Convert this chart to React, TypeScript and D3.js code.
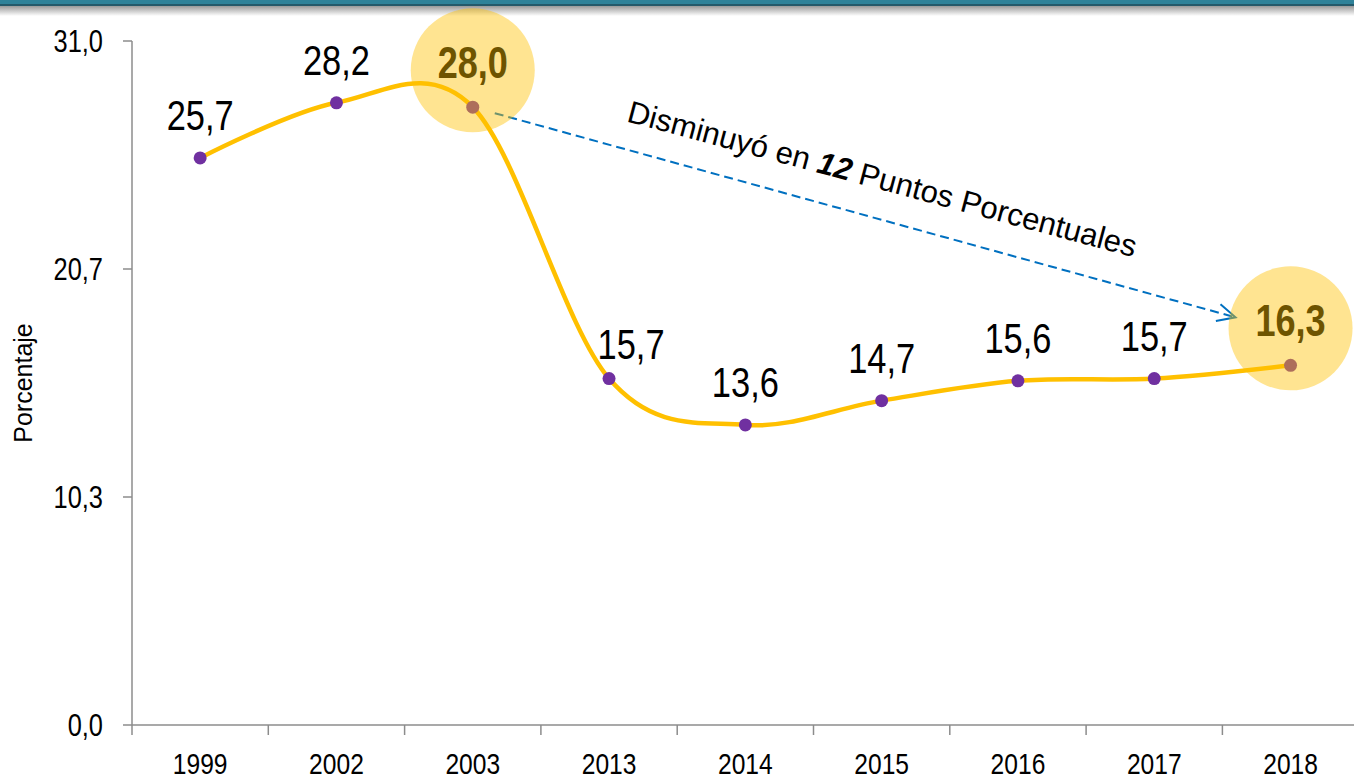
import React from "react";
import * as d3 from "d3";

const years = ["1999", "2002", "2003", "2013", "2014", "2015", "2016", "2017", "2018"];
const values = [25.7, 28.2, 28.0, 15.7, 13.6, 14.7, 15.6, 15.7, 16.3];
const highlighted = ["2003", "2018"];
const yTickValues = [0, 31 / 3, 62 / 3, 31];
const yTitle = "Porcentaje";
const annotationParts = ["Disminuyó en ", "12", " Puntos Porcentuales"];

const W = 1354;
const H = 777;
const SANS = "'Liberation Sans', Arial, sans-serif";
const NARROW_SCALE = 0.82;

type NTextProps = {
  x: number;
  y: number;
  size: number;
  anchor?: "start" | "middle" | "end";
  weight?: string;
  fill?: string;
  dy?: string;
  children: React.ReactNode;
};

function NText({ x, y, size, anchor = "middle", weight = "normal", fill = "#000", dy, children }: NTextProps) {
  return (
    <text
      transform={`translate(${x},${y}) scale(${NARROW_SCALE},1)`}
      textAnchor={anchor}
      fontFamily={SANS}
      fontSize={size}
      fontWeight={weight}
      fill={fill}
      dy={dy}
    >
      {children}
    </text>
  );
}

export default function App() {
  React.useEffect(() => {
    document.body.style.margin = "0";
  }, []);

  const x = d3.scaleBand<string>().domain(years).range([132, 132 + 9 * 136.3]).padding(0);
  const y = d3.scaleLinear().domain([0, 31]).range([725, 41]);
  const cx = (yr: string) => (x(yr) as number) + x.bandwidth() / 2;
  const fmt = (v: number) => d3.format(".1f")(v).replace(".", ",");

  const pts: [number, number][] = years.map((yr, i) => [cx(yr), y(values[i])]);
  const line = d3.line().curve(d3.curveCardinal.tension(0))(pts) as string;

  const [x0, y0] = pts[2];
  const [x1, y1] = pts[8];
  const aStart: [number, number] = [x0 + 22, y0 + 6];
  const aEnd: [number, number] = [x1 - 55, y1 - 48];
  const ang = Math.atan2(aEnd[1] - aStart[1], aEnd[0] - aStart[0]);
  const headLen = 20;
  const headAng = 0.45;
  const h1 = [aEnd[0] - headLen * Math.cos(ang - headAng), aEnd[1] - headLen * Math.sin(ang - headAng)];
  const h2 = [aEnd[0] - headLen * Math.cos(ang + headAng), aEnd[1] - headLen * Math.sin(ang + headAng)];

  const labelOffset = (yr: string) => (yr === "2013" ? [22, -20] : [0, -28]);

  return (
    <svg width={W} height={H} style={{ position: "absolute", left: 0, top: 0, background: "#fff" }}>
      <defs>
        <linearGradient id="shadow" x1="0" y1="0" x2="0" y2="1">
          <stop offset="0" stopColor="#9a9a9a" />
          <stop offset="1" stopColor="#ffffff" />
        </linearGradient>
      </defs>
      <rect x={0} y={0} width={W} height={H} fill="#fff" />
      {/* top banner */}
      <rect x={0} y={6} width={W} height={10} fill="url(#shadow)" />
      <rect x={0} y={0} width={W} height={4} fill="#2f8299" />
      <rect x={0} y={4} width={W} height={2} fill="#24596a" />

      {/* y axis */}
      <line x1={132} x2={132} y1={y(31)} y2={y(0)} stroke="#8c8c8c" strokeWidth={1.5} />
      {yTickValues.map((t) => (
        <g key={t}>
          <line x1={123} x2={132} y1={y(t)} y2={y(t)} stroke="#8c8c8c" strokeWidth={1.5} />
          <NText x={103} y={y(t)} dy="0.35em" anchor="end" size={31}>
            {fmt(t)}
          </NText>
        </g>
      ))}
      <text
        transform={`translate(32,${(y(31) + y(0)) / 2}) rotate(-90)`}
        textAnchor="middle"
        fontFamily={SANS}
        fontSize={25}
        fill="#000"
      >
        {yTitle}
      </text>

      {/* x axis */}
      <line x1={132} x2={W} y1={y(0)} y2={y(0)} stroke="#8c8c8c" strokeWidth={1.5} />
      {years.map((yr) => (
        <g key={yr}>
          <line x1={x(yr) as number} x2={x(yr) as number} y1={y(0)} y2={y(0) + 10} stroke="#8c8c8c" strokeWidth={1.5} />
          <NText x={cx(yr)} y={774} size={30}>
            {yr}
          </NText>
        </g>
      ))}

      {/* arrow */}
      <line x1={aStart[0]} y1={aStart[1]} x2={aEnd[0]} y2={aEnd[1]} stroke="#0070c0" strokeWidth={2} strokeDasharray="9,5" />
      <polyline points={`${h1[0]},${h1[1]} ${aEnd[0]},${aEnd[1]} ${h2[0]},${h2[1]}`} fill="none" stroke="#0070c0" strokeWidth={2} />
      <text
        transform={`translate(${aStart[0] + 131},${aStart[1] + 8}) rotate(15)`}
        textAnchor="start"
        fontFamily={SANS}
        fontSize={31}
        fill="#000"
      >
        {annotationParts[0]}
        <tspan fontWeight="bold" fontStyle="italic">{annotationParts[1]}</tspan>
        {annotationParts[2]}
      </text>

      {/* line */}
      <path d={line} fill="none" stroke="#ffc000" strokeWidth={4.5} />
      {pts.map((p, i) => (
        <circle key={years[i]} cx={p[0]} cy={p[1]} r={6.5} fill="#7030a0" />
      ))}
      {years.map((yr, i) =>
        highlighted.includes(yr) ? null : (
          <NText key={yr} x={pts[i][0] + labelOffset(yr)[0]} y={pts[i][1] + labelOffset(yr)[1]} size={42}>
            {fmt(values[i])}
          </NText>
        )
      )}

      {/* highlight circles */}
      {years.map((yr, i) =>
        highlighted.includes(yr) ? (
          <g key={yr}>
            <circle cx={pts[i][0]} cy={pts[i][1] - 37} r={62} fill="#ffc000" fillOpacity={0.43} />
            <NText x={pts[i][0]} y={pts[i][1] - 29} size={44} weight="bold" fill="#6e5400">
              {fmt(values[i])}
            </NText>
          </g>
        ) : null
      )}
    </svg>
  );
}
